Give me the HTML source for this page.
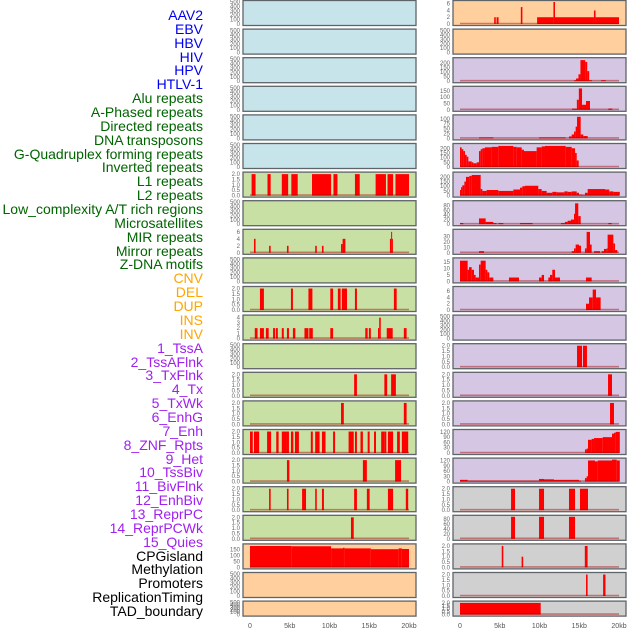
<!DOCTYPE html>
<html><head><meta charset="utf-8">
<style>
html,body{margin:0;padding:0;background:#fff;width:630px;height:630px;overflow:hidden}
#labels{position:absolute;left:0;top:0;width:203px;height:630px}
.lb{position:absolute;right:0;font:14px "Liberation Sans",sans-serif;white-space:nowrap;line-height:14px}
svg{position:absolute;left:0;top:0}
</style></head><body>
<div id="labels"></div>
<svg id="chart" width="630" height="630"></svg>
<script>
const trackLabels=["AAV2","EBV","HBV","HIV","HPV","HTLV-1","Alu repeats","A-Phased repeats","Directed repeats","DNA transposons","G-Quadruplex forming repeats","Inverted repeats","L1 repeats","L2 repeats","Low_complexity A/T rich regions","Microsatellites","MIR repeats","Mirror repeats","Z-DNA motifs","CNV","DEL","DUP","INS","INV","1_TssA","2_TssAFlnk","3_TxFlnk","4_Tx","5_TxWk","6_EnhG","7_Enh","8_ZNF_Rpts","9_Het","10_TssBiv","11_BivFlnk","12_EnhBiv","13_ReprPC","14_ReprPCWk","15_Quies","CPGisland","Methylation","Promoters","ReplicationTiming","TAD_boundary"];
const labelGroups=[6,13,5,15,5];
const groupColors=["#0000ee","#006400","#ffa500","#a020f0","#000000"];
const xTicks=[0,5,10,15,20];
const xTickLabels=["0","5kb","10kb","15kb","20kb"];

// left column segments [startKb,endKb,value]
const leftL1=[[0.2,0.7,2],[2.2,2.6,2],[4.0,4.8,2],[5.2,6.0,2],[7.8,10.2,2],[10.5,11.0,2],[13.2,13.8,2],[15.8,17.1,2],[17.3,18.0,2],[18.3,20.0,2]];
const leftMIR=[[0.5,0.7,4],[2.4,2.6,2],[4.65,4.85,2],[8.2,8.4,2],[9.05,9.25,2],[11.45,11.65,2.5],[11.65,12.0,4],[17.6,17.75,4],[17.75,17.85,6],[17.85,17.95,4]];
const leftDEL=[[1.25,1.75,2],[5.15,5.4,2],[7.35,7.85,2],[10.1,10.45,2],[11.05,11.4,2],[11.55,12.2,2],[13.2,13.45,2],[18.1,18.45,2]];
const leftINS=[[0.6,0.95,2],[1.25,1.75,2],[2.0,2.35,2],[2.9,3.15,2],[3.25,3.5,2],[4.0,4.25,2],[4.65,4.9,2],[5.4,5.7,2],[6.85,7.35,2],[7.45,7.9,2],[10.1,10.45,2],[14.5,14.8,2],[14.95,15.2,2],[16.1,16.25,2],[16.25,16.45,4],[17.2,17.95,2],[19.35,19.7,2]];
const leftTxFlnk=[[13.1,13.45,2],[16.9,17.25,2],[17.75,18.35,2]];
const leftTx=[[11.45,11.8,2],[19.35,19.7,2]];
const leftEnh=[[0,0.35,2],[0.5,1.15,2],[2.15,2.65,2],[3.3,3.6,2],[4.0,4.65,2],[4.65,4.9,2],[5.15,5.45,2],[5.65,6.15,2],[7.65,7.9,2],[8.2,8.75,2],[9.05,9.5,2],[10.45,10.7,2],[12.4,13.05,2],[13.2,13.45,2],[13.9,14.2,2],[14.8,15.05,2],[15.6,15.85,2],[16.5,16.9,2],[16.9,17.15,2],[17.35,18.0,2],[18.5,18.85,2],[19.1,19.9,2]];
const leftZNF=[[4.65,4.95,2],[14.2,14.7,2],[18.25,19.0,2]];
const leftHet=[[2.4,2.6,2],[4.65,4.85,2],[6.55,7.05,2],[8.2,8.4,2],[9.05,9.3,2],[13.1,13.45,2],[14.7,15.05,2],[17.35,18.0,2],[19.6,19.9,2]];
const leftBiv=[[12.7,13.05,2]];
const leftCpG=[[0,5.2,180],[5.2,10.2,178],[10.2,11.7,160],[11.7,11.9,165],[11.9,15.2,160],[15.2,18.7,153],[18.7,19.1,160],[19.1,20,155]];

// right column segments
const rightAAV2=[[4.3,4.5,2],[4.6,4.85,2],[7.65,7.85,5],[9.7,11.75,2],[11.75,11.95,6.5],[11.95,16.85,2],[16.85,17.05,4],[17.05,20.0,2]];
const rightHIV=[[14.35,14.6,10],[14.6,14.9,30],[14.9,15.15,75],[15.15,15.75,230],[15.75,16.0,210],[16.0,16.25,110],[16.25,16.6,10],[17.75,18.35,10]];
const rightAlu=[[14.1,14.7,10],[14.7,14.95,80],[14.95,15.35,170],[15.35,15.85,40],[15.85,16.35,70],[18.65,19.15,10]];
const rightDNA=[[2.39,4.19,5],[9.94,13.29,5],[13.71,14.05,10],[14.05,14.34,20],[14.34,14.55,35],[14.55,14.72,60],[14.72,15.18,110],[15.18,15.51,20],[15.51,16.06,12]];
const rightGQ=[[0,0.21,210],[0.21,0.42,190],[0.42,0.63,170],[0.63,0.84,130],[0.84,1.05,110],[1.05,1.47,60],[1.47,1.68,50],[1.68,2.1,40],[2.1,2.39,50],[2.39,2.6,170],[2.6,2.81,190],[2.81,3.14,200],[3.14,3.98,210],[3.98,4.82,215],[4.82,6.71,225],[6.71,7.13,215],[7.13,7.76,210],[7.76,8.05,185],[8.05,9.64,170],[9.64,10.27,210],[10.27,10.69,220],[10.69,13.29,225],[13.29,14.05,215],[14.05,14.47,200],[14.47,14.68,150],[14.68,14.93,70]];
const rightL1=[[0,0.13,60],[0.13,0.29,90],[0.29,0.55,110],[0.55,0.75,150],[0.75,1.17,200],[1.17,1.47,210],[1.47,2.6,220],[2.6,2.81,70],[2.81,3.35,50],[3.35,4.82,60],[4.82,6.71,50],[6.71,7.55,65],[7.55,7.84,85],[7.84,8.18,100],[8.18,9.85,105],[9.85,10.27,70],[10.27,10.9,50],[10.9,11.61,30],[11.61,12.16,40],[12.16,13.12,35],[13.12,13.54,45],[13.54,14.05,40],[14.05,14.68,45],[14.68,14.97,30],[14.97,15.43,10],[15.43,15.72,5],[15.72,16.06,30],[16.06,18.24,70],[18.24,18.78,65],[18.78,19.29,45],[19.29,20.1,40]];
const rightLowC=[[0,0.42,5],[2.39,3.23,25],[3.23,4.19,10],[4.19,4.61,5],[4.82,5.45,5],[7.55,9.14,5],[12.7,13.2,5],[13.2,13.54,10],[13.54,13.96,15],[13.96,14.34,20],[14.34,14.47,45],[14.47,14.88,90],[14.88,15.18,35],[18.66,19.08,5]];
const rightMIR=[[2.39,3.02,3],[14.05,14.34,3],[14.34,14.55,8],[14.55,14.97,15],[14.97,15.22,13],[15.72,15.93,8],[15.93,16.35,38],[16.35,16.56,15],[16.86,17.61,3],[17.82,18.11,3],[18.11,18.45,7],[18.45,18.57,8],[18.57,19.29,33],[19.29,19.5,17],[19.5,19.79,5]];
const rightZDNA=[[0,0.96,16],[0.96,1.13,9],[1.13,1.47,11],[1.47,1.76,9],[1.76,1.97,5],[1.97,2.39,3],[2.39,2.6,13],[2.6,3.23,16],[3.23,3.44,9],[3.44,3.69,7],[3.69,4.19,3],[6.16,7.42,3],[9.94,10.27,3],[10.27,10.57,5],[11.11,11.32,3],[11.32,11.61,5],[11.61,11.95,9],[11.95,12.58,3],[15.85,16.56,3]];
const rightDEL=[[15.85,16.23,2],[16.23,16.69,4],[16.69,17.11,6.5],[17.11,17.69,4]];
const rightTssA=[[14.72,15.35,2],[15.47,15.97,2]];
const rightTxWk=[[18.62,19.12,2]];
const rightEnhG=[[18.87,19.37,2]];
const rightTssBiv=[[15.72,15.93,20],[15.93,16.1,25],[16.1,16.56,75],[16.56,16.86,80],[16.86,17.95,85],[17.95,19.12,90],[19.12,19.37,110],[19.37,19.58,115],[19.58,20.1,120]];
const rightBivFlnk=[[0,0.96,10],[0.96,9.94,5],[9.94,10.57,15],[10.57,11.82,13],[11.82,14.97,10],[14.97,15.22,5],[15.72,15.93,20],[15.93,16.1,30],[16.1,16.98,120],[16.98,17.32,115],[17.32,19.12,120],[19.12,19.71,125],[19.71,20.1,120]];
const rightEnhBiv=[[6.42,6.92,2],[9.94,10.57,2],[13.71,14.47,2],[15.09,16.1,2]];
const rightReprPC=[[6.42,6.92,90],[9.94,10.57,90],[13.71,14.47,90]];
const rightCpG=[[5.25,5.45,2],[7.75,7.95,1],[15.7,16.05,2]];
const rightProm=[[15.85,16.05,2],[18.0,18.3,2]];
const rightTAD=[[0,10.15,2]];

const T500=[0,100,200,300,400,500], T2=[0,0.5,1,1.5,2];
const leftColors=["#c8e4eb","#c8e4eb","#c8e4eb","#c8e4eb","#c8e4eb","#c8e4eb","#c8e0a4","#c8e0a4","#c8e0a4","#c8e0a4","#c8e0a4","#c8e0a4","#c8e0a4","#c8e0a4","#c8e0a4","#c8e0a4","#c8e0a4","#c8e0a4","#c8e0a4","#ffd09e","#ffd09e","#ffd09e"];
const rightColors=["#ffd09e","#ffd09e","#d5c6e3","#d5c6e3","#d5c6e3","#d5c6e3","#d5c6e3","#d5c6e3","#d5c6e3","#d5c6e3","#d5c6e3","#d5c6e3","#d5c6e3","#d5c6e3","#d5c6e3","#d5c6e3","#d5c6e3","#d0d0d0","#d0d0d0","#d0d0d0","#d0d0d0","#d0d0d0"];
const leftData=[[],[],[],[],[],[],leftL1,[],leftMIR,[],leftDEL,leftINS,[],leftTxFlnk,leftTx,leftEnh,leftZNF,leftHet,leftBiv,leftCpG,[],[]];
const leftTicks=[T500,T500,T500,T500,T500,T500,T2,T500,[0,2,4,6],T500,T2,[0,1,2,3,4],T500,T2,T2,T2,T2,T2,T2,[0,50,100,150],T500,T500];
const leftMax=[500,500,500,500,500,500,2.05,500,6.3,500,2.05,4.2,500,2.05,2.05,2.05,2.05,2.05,2.05,185,500,500];
const rightData=[rightAAV2,[],rightHIV,rightAlu,rightDNA,rightGQ,rightL1,rightLowC,rightMIR,rightZDNA,rightDEL,[],rightTssA,rightTxWk,rightEnhG,rightTssBiv,rightBivFlnk,rightEnhBiv,rightReprPC,rightCpG,rightProm,rightTAD];
const rightTicks=[[0,2,4,6],T500,[0,50,100,150,200],[0,50,100,150],[0,25,50,75,100],[0,50,100,150,200],[0,50,100,150,200],[0,20,40,60,80],[0,10,20,30],[0,5,10,15],[0,2,4,6],T500,T2,T2,T2,[0,30,60,90,120],[0,30,60,90,120],T2,[0,20,40,60,80],T2,T2,T2];
const rightMax=[6.5,500,240,175,112,235,235,95,40,17,7,500,2.05,2.05,2.05,125,125,2.05,90,2.05,2.05,2.05];

const NS="http://www.w3.org/2000/svg";
const svg=document.getElementById('chart');
function mk(tag,attrs,parent){const e=document.createElementNS(NS,tag);for(const k in attrs)e.setAttribute(k,attrs[k]);(parent||svg).appendChild(e);return e;}

const lab=document.getElementById('labels');
let gi=0,cnt=0;
trackLabels.forEach((t,i)=>{
  while(cnt>=labelGroups[gi]){gi++;cnt=0;}
  cnt++;
  const d=document.createElement('div');
  d.className='lb';
  
  
  d.style.top=(8+i*13.86)+'px';
  d.style.color=groupColors[gi];
  d.textContent=t;
  lab.appendChild(d);
});

function drawColumn(px,x0,colors,data,ticks,maxes,side){
  const pw=173, kbw=7.95;
  const xk=k=>x0+k*kbw;
  for(let i=0;i<colors.length;i++){
    const top=0.5+i*28.6, h=(i===colors.length-1)?15:25;
    const g=mk('g',{});
    
    
    const y0=top+h-1.5, y1=top+1.5;
    const yv=v=>y0-(v/maxes[i])*(y0-y1);
    mk('rect',{x:px,y:top,width:pw,height:h,fill:colors[i],stroke:'#5f6468','stroke-width':1.3},g);
    data[i].forEach(s=>{
      const xa=xk(s[0]),xb=Math.max(xk(s[1]),xa+1);
      const r=mk('rect',{x:xa,y:yv(s[2]),width:xb-xa,height:y0-yv(s[2]),fill:'#ff0000'},g);
      
      
    });
    if(data[i].length){
      mk('line',{x1:xk(0),x2:xk(20),y1:y0-0.5,y2:y0-0.5,stroke:'rgba(170,0,0,0.45)','stroke-width':1.6},g);
    }
    ticks[i].forEach(t=>{
      const tx=mk('text',{x:px-3,y:yv(t)+2,'text-anchor':'end','font-size':6,'font-family':'Liberation Sans, sans-serif',fill:'#666'},g);
      tx.textContent=maxes[i]<=2.05?Number(t).toFixed(1):String(t);
    });
  }
  const ax=mk('g',{});
  
  
  xTicks.forEach((k,j)=>{
    const t=mk('text',{x:xk(k),y:628,'text-anchor':'middle','font-size':7,'font-family':'Liberation Sans, sans-serif',fill:'#555'},ax);
    t.textContent=xTickLabels[j];
  });
}
drawColumn(243,250,leftColors,leftData,leftTicks,leftMax,'left');
drawColumn(453,460,rightColors,rightData,rightTicks,rightMax,'right');
</script>
</body></html>
